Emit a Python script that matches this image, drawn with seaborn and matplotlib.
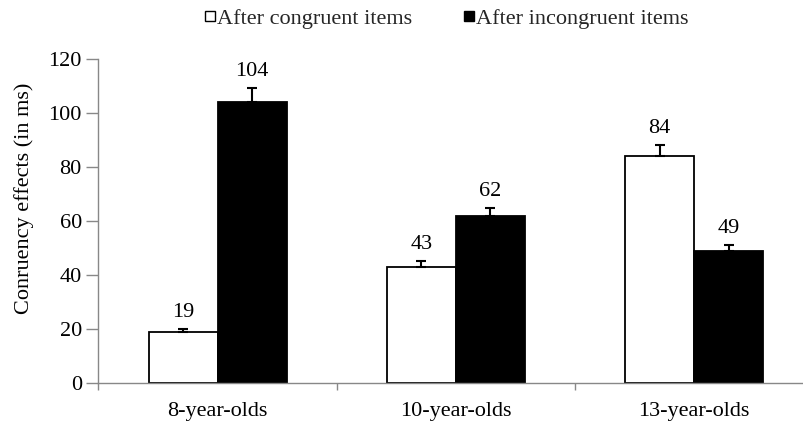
import matplotlib
matplotlib.use("Agg")
import matplotlib.pyplot as plt
from matplotlib.lines import Line2D
import seaborn as sns
import pandas as pd

# Congruency effects by age group and previous-trial type
groups = ["8-year-olds", "10-year-olds", "13-year-olds"]
conditions = ["After congruent items", "After incongruent items"]
after_congruent = [19, 43, 84]
after_incongruent = [104, 62, 49]
err_congruent = [1.0, 2.1, 4.3]
err_incongruent = [5.3, 2.7, 2.2]

df = pd.DataFrame({
    "group": groups * 2,
    "condition": [conditions[0]] * 3 + [conditions[1]] * 3,
    "effect": after_congruent + after_incongruent,
    "err": err_congruent + err_incongruent,
})

sns.set_theme(style="white")
plt.rcParams["font.family"] = ["Liberation Serif", "DejaVu Serif"]

fig = plt.figure(figsize=(8.04, 4.23), dpi=100)
ax = fig.add_axes([0.1225, 0.0946, 0.889, 0.766])

sns.barplot(data=df, x="group", y="effect", hue="condition",
            order=groups, hue_order=conditions,
            palette=["white", "black"], edgecolor="black", linewidth=1.3,
            width=0.58, errorbar=None, legend=False, ax=ax)

# Upward-only error bars and value labels above each bar
for container, cond in zip(ax.containers, conditions):
    sub = df[df["condition"] == cond].set_index("group").loc[groups]
    for bar, val, e in zip(container, sub["effect"], sub["err"]):
        xc = bar.get_x() + bar.get_width() / 2
        ax.errorbar(xc, val, yerr=[[0], [e]], fmt="none", ecolor="black",
                    elinewidth=1.5, capsize=3.5, capthick=1.5)
        ax.annotate(f"{val:g}", (xc, val + e), xytext=(0, 5),
                    textcoords="offset points", ha="center", va="bottom",
                    fontsize=16, color="black")

ax.set_ylim(0, 120)
ax.set_yticks(range(0, 121, 20))
ax.set_xlim(-0.5, 2.5)
ax.set_xlabel("")
ax.set_ylabel("Conruency effects (in ms)", fontsize=16, color="black")
ax.yaxis.set_label_coords(-0.09, 0.57)

for side in ["top", "right"]:
    ax.spines[side].set_visible(False)
for side in ["left", "bottom"]:
    ax.spines[side].set_color("#888888")
    ax.spines[side].set_linewidth(1.0)

ax.tick_params(axis="y", which="major", direction="out", length=9, width=1,
               color="#888888", labelsize=16, labelcolor="black", left=True,
               pad=3)
ax.tick_params(axis="x", which="major", length=0, labelsize=16,
               labelcolor="black", pad=14)
ax.set_xticks([-0.5, 0.5, 1.5, 2.5], minor=True)
ax.tick_params(axis="x", which="minor", direction="out", length=5, width=1,
               color="#888888", bottom=True)

handles = [Line2D([0], [0], marker="s", linestyle="none", markersize=7,
                  markerfacecolor=c, markeredgecolor="black", markeredgewidth=1)
           for c in ["white", "black"]]
fig.legend(handles, conditions, loc="upper center", bbox_to_anchor=(0.555, 1.027),
           ncol=2, frameon=False, fontsize=16, handletextpad=0.05,
           columnspacing=2.3, handlelength=0.55)

fig.savefig("out.png", dpi=100)
